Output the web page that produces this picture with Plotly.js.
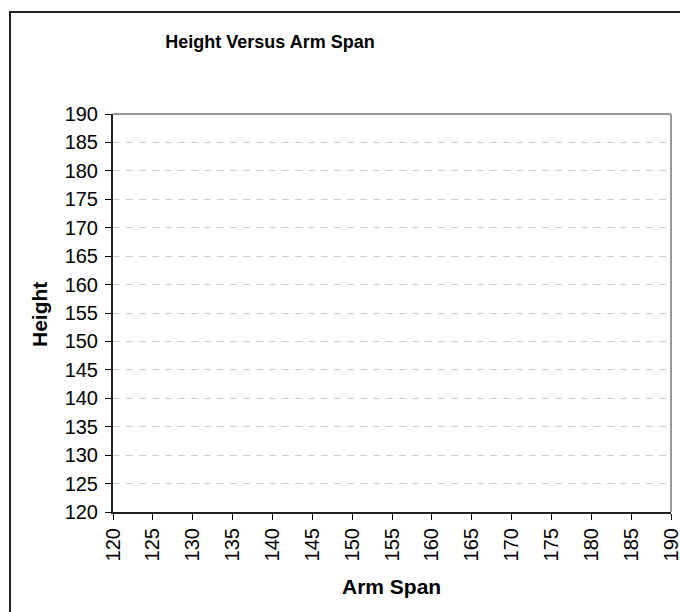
<!DOCTYPE html>
<html>
<head>
<meta charset="utf-8">
<script src="https://cdn.plot.ly/plotly-3.0.1.min.js"></script>
<style>html,body{margin:0;padding:0;background:#fff;}#chart{width:680px;height:612px;}</style>
</head>
<body>
<div id="chart"></div>
<script>
// Data (the reference chart contains no plotted points)
const armSpan = [];
const height = [];
const xTickVals = [120,125,130,135,140,145,150,155,160,165,170,175,180,185,190];
const yTickVals = [120,125,130,135,140,145,150,155,160,165,170,175,180,185,190];
const chartTitle = "Height Versus Arm Span";
const xTitle = "Arm Span";
const yTitle = "Height";

const W = 680, H = 612;
const font = "Liberation Sans, Arial, sans-serif";

const trace = {
  x: armSpan, y: height, type: "scatter", mode: "markers",
  marker: {color: "#000080", size: 7}, showlegend: false, hoverinfo: "skip"
};

const layout = {
  width: W, height: H,
  margin: {l: 113, r: 9, t: 114, b: 100, pad: 0},
  paper_bgcolor: "#ffffff", plot_bgcolor: "#ffffff",
  font: {family: font, color: "#000"},
  showlegend: false,
  title: {
    text: "<b>" + chartTitle + "</b>",
    font: {family: font, size: 18, color: "#000"},
    xref: "container", yref: "container",
    x: 270 / W, xanchor: "center",
    y: 1 - 42 / H, yanchor: "middle"
  },
  xaxis: {
    range: [120, 190], tickmode: "array", tickvals: xTickVals,
    ticktext: xTickVals.map(String),
    tickangle: -90, ticks: "outside", ticklen: 6, tickwidth: 1, tickcolor: "#000",
    tickfont: {family: font, size: 20, color: "#000"},
    ticklabeloverflow: "allow",
    showline: true, linecolor: "#222", linewidth: 2,
    showgrid: false, zeroline: false, fixedrange: true
  },
  yaxis: {
    range: [120, 190], tickmode: "array", tickvals: yTickVals,
    ticktext: yTickVals.map(String),
    ticks: "outside", ticklen: 6, tickwidth: 1, tickcolor: "#000",
    tickfont: {family: font, size: 20, color: "#000"},
    ticklabelstandoff: 3, ticklabeloverflow: "allow",
    showline: true, linecolor: "#222", linewidth: 2,
    showgrid: true, gridcolor: "#cfcfcf", gridwidth: 1, griddash: "7px,6px",
    zeroline: false, fixedrange: true
  },
  annotations: [
    {text: "<b>" + xTitle + "</b>", xref: "paper", yref: "paper",
     x: (391 - 113) / (671 - 113), y: -(586 - 512) / (512 - 114),
     xanchor: "center", yanchor: "middle", showarrow: false,
     font: {family: font, size: 21, color: "#000"}},
    {text: "<b>" + yTitle + "</b>", xref: "paper", yref: "paper",
     x: -(113 - 39) / (671 - 113), y: (512 - 315) / (512 - 114),
     xanchor: "center", yanchor: "middle", showarrow: false, textangle: -90,
     font: {family: font, size: 21, color: "#000"}}
  ],
  shapes: [
    // top and right borders of plot area (gray)
    {type: "line", xref: "paper", yref: "paper", x0: 0, x1: 1, y0: 1, y1: 1,
     line: {color: "#999999", width: 2}},
    {type: "line", xref: "paper", yref: "paper", x0: 1, x1: 1, y0: 0, y1: 1,
     line: {color: "#999999", width: 2}},
    // outer chart border (extends past window on right and bottom)
    {type: "rect", xref: "paper", yref: "paper",
     x0: -(113 - 10) / (671 - 113), x1: 1 + 30 / (671 - 113),
     y0: -(640 - 512) / (512 - 114), y1: 1 + (114 - 12) / (512 - 114),
     line: {color: "#222", width: 2}, fillcolor: "rgba(0,0,0,0)"}
  ]
};

Plotly.newPlot("chart", [trace], layout, {displayModeBar: false, staticPlot: true});
</script>
</body>
</html>
